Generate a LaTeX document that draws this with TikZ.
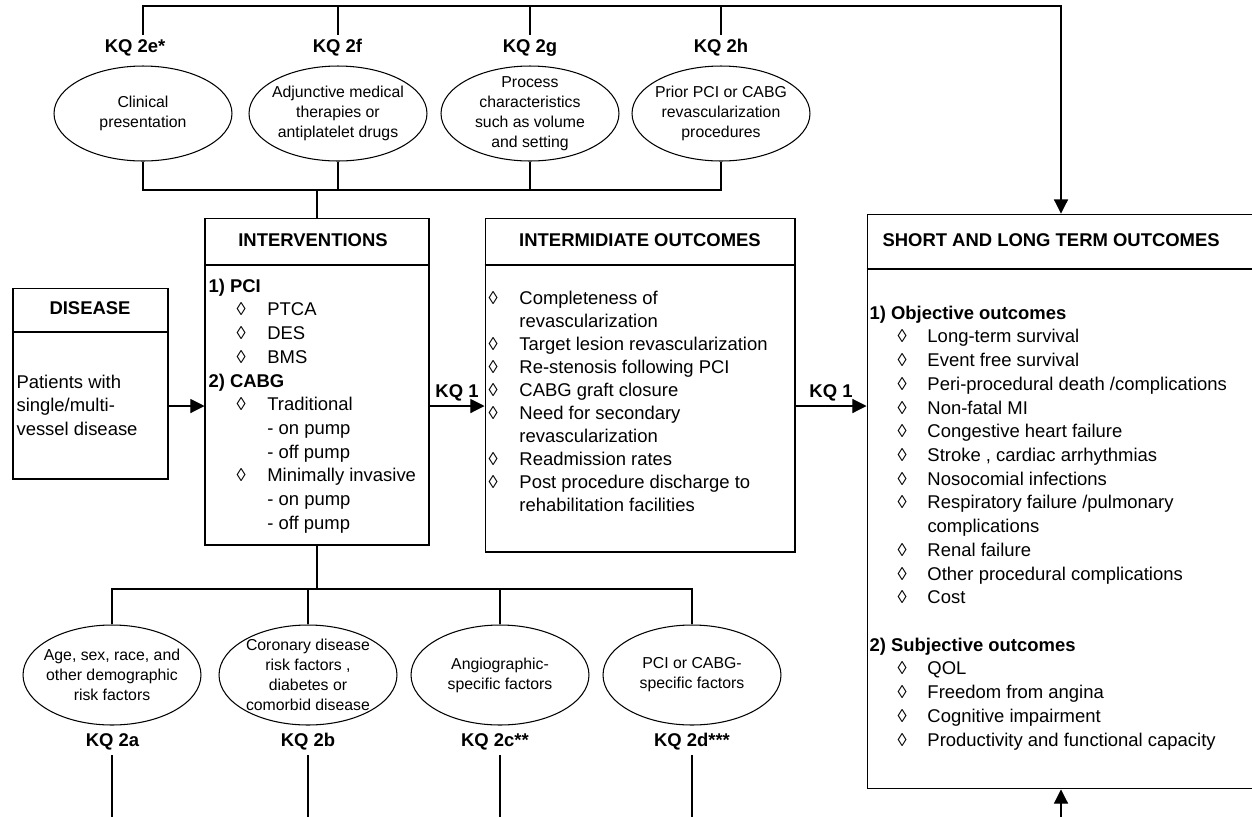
\documentclass[tikz,border=0pt]{standalone}
\usepackage{fontspec}
\setmainfont{Liberation Sans}
\usetikzlibrary{shapes.geometric,arrows.meta}

\newcommand{\dm}[1][17pt]{\makebox[#1][l]{◊}}
\newcommand{\ind}{\hspace{16pt}}

\begin{document}
\begin{tikzpicture}[
  x=0.02cm, y=-0.02cm,
  line width=0.6pt,
  >={Triangle[length=8pt,width=8pt]},
  box/.style={draw,rectangle,inner sep=0pt},
  oval/.style={draw,ellipse,inner sep=-15pt,minimum width=3.56cm,align=center,
    font=\fontsize{9}{11.3}\selectfont},
  kq/.style={font=\bfseries\fontsize{10.5}{12}\selectfont,inner sep=2.5pt},
  head/.style={font=\bfseries\fontsize{10.5}{12}\selectfont,inner sep=0pt},
  body/.style={anchor=north west,align=left,inner sep=0pt,
    font=\fontsize{10.5}{13.5}\selectfont}]

\useasboundingbox (0,0) rectangle (1252,816);

% main boxes
\node[box,minimum width=3.1cm,minimum height=3.82cm] (dis) at (90.5,383.5) {};
\node[box,minimum width=4.48cm,minimum height=6.54cm] (interv) at (317,381.5) {};
\node[box,minimum width=6.2cm,minimum height=6.68cm] (inter) at (640,385) {};
\node[box,minimum width=7.76cm,minimum height=11.5cm] (outc) at (1061,501.5) {};

\coordinate (hdis) at (0,332);
\coordinate (hmid) at (0,265);
\coordinate (hout) at (0,269);
\draw (dis.west |- hdis) -- (dis.east |- hdis);
\draw (interv.west |- hmid) -- (interv.east |- hmid);
\draw (inter.west |- hmid) -- (inter.east |- hmid);
\draw (outc.west |- hout) -- (outc.east |- hout);

\node[head] (tdis) at (90,308) {DISEASE};
\node[head] (tint) at (313,240) {INTERVENTIONS};
\node[head] (tmid) at (640,240) {INTERMIDIATE OUTCOMES};
\node[head,anchor=west] (tout) at (882,240) {SHORT AND LONG TERM OUTCOMES};

% box contents
\node[body] (bdis) at (16,371) {\strut Patients with\\single/multi-\\vessel disease};
\node[body] (bint) at (208,275) {\strut\textbf{1) PCI}\\
  \ind\dm[17.5pt]PTCA\\
  \ind\dm[17.5pt]DES\\
  \ind\dm[17.5pt]BMS\\
  \textbf{2) CABG}\\
  \ind\dm[17.5pt]Traditional\\
  \ind\hspace{17.5pt}- on pump\\
  \ind\hspace{17.5pt}- off pump\\
  \ind\dm[17.5pt]Minimally invasive\\
  \ind\hspace{17.5pt}- on pump\\
  \ind\hspace{17.5pt}- off pump};
\node[body,font=\fontsize{10.5}{13.1}\selectfont] (bmid) at (488,288) {\strut\dm[17.6pt]Completeness of\\
  \hspace{17.6pt}revascularization\\
  \dm[17.6pt]Target lesion revascularization\\
  \dm[17.6pt]Re-stenosis following PCI\\
  \dm[17.6pt]CABG graft closure\\
  \dm[17.6pt]Need for secondary\\
  \hspace{17.6pt}revascularization\\
  \dm[17.6pt]Readmission rates\\
  \dm[17.6pt]Post procedure discharge to\\
  \hspace{17.6pt}rehabilitation facilities};
\node[body] (bout) at (869,302) {\strut\textbf{1) Objective outcomes}\\
  \ind\dm Long-term survival\\
  \ind\dm Event free survival\\
  \ind\dm Peri-procedural death /complications\\
  \ind\dm Non-fatal MI\\
  \ind\dm Congestive heart failure\\
  \ind\dm Stroke , cardiac arrhythmias\\
  \ind\dm Nosocomial infections\\
  \ind\dm Respiratory failure /pulmonary\\
  \ind\hspace{17pt}complications\\
  \ind\dm Renal failure\\
  \ind\dm Other procedural complications\\
  \ind\dm Cost\\[13.5pt]
  \textbf{2) Subjective outcomes}\\
  \ind\dm QOL\\
  \ind\dm Freedom from angina\\
  \ind\dm Cognitive impairment\\
  \ind\dm Productivity and functional capacity};

% factor ovals
\node[oval,minimum height=1.9cm] (e) at (143,113.5) {Clinical\\presentation};
\node[oval,minimum height=1.9cm] (f) at (338,113.5) {Adjunctive medical\\therapies or\\antiplatelet drugs};
\node[oval,minimum height=1.9cm] (g) at (530,113.5) {Process\\characteristics\\such as volume\\and setting};
\node[oval,minimum height=1.9cm] (h) at (721,113.5) {Prior PCI or CABG\\revascularization\\procedures};

\node[oval,minimum height=2cm] (a) at (112,675) {Age, sex, race, and\\other demographic\\risk factors};
\node[oval,minimum height=2cm] (b) at (308,675) {Coronary disease\\risk factors ,\\diabetes or\\comorbid disease};
\node[oval,minimum height=2cm] (c) at (500,675) {Angiographic-\\specific factors};
\node[oval,minimum height=2cm] (d) at (692,675) {PCI or CABG-\\specific factors};

\node[kq] (kqe) at (135,48) {KQ 2e*};
\node[kq] (kqf) at (337.5,48) {KQ 2f};
\node[kq] (kqg) at (530,48) {KQ 2g};
\node[kq] (kqh) at (721,48) {KQ 2h};
\node[kq] (kqa) at (112.5,742) {KQ 2a};
\node[kq] (kqb) at (308,742) {KQ 2b};
\node[kq] (kqc) at (495,742) {KQ 2c**};
\node[kq] (kqd) at (692,742) {KQ 2d***};

% connectors
\coordinate (topy) at (0,6);
\coordinate (jtop) at (317,190);
\coordinate (jbot) at (317,589);
\coordinate (arow) at (0,406);
\coordinate (pbot) at (0,820);

\draw[->] (e |- kqe.north) -- (e |- topy) -- (outc.north |- topy) -- (outc.north);
\draw (f |- kqf.north) -- (f |- topy);
\draw (g |- kqg.north) -- (g |- topy);
\draw (h |- kqh.north) -- (h |- topy);

\draw (e.south) |- (h.south |- jtop) -- (h.south);
\draw (f.south) -- (f.south |- jtop);
\draw (g.south) -- (g.south |- jtop);
\draw (jtop) -- (interv.north);

\draw (interv.south) -- (jbot);
\draw (a.north) |- (d.north |- jbot) -- (d.north);
\draw (b.north) -- (b.north |- jbot);
\draw (c.north) -- (c.north |- jbot);

\draw (a |- kqa.south) -- (a |- pbot);
\draw (b |- kqb.south) -- (b |- pbot);
\draw (c |- kqc.south) -- (c |- pbot);
\draw (d |- kqd.south) -- (d |- pbot);
\draw[->] (outc.south |- pbot) -- (outc.south);

\draw[->] (dis.east |- arow) -- (interv.west |- arow);
\draw[->] (interv.east |- arow) -- node[kq,above] (kq1a) {KQ 1} (inter.west |- arow);
\draw[->] (inter.east |- arow) -- node[kq,above] (kq1b) {KQ 1} (outc.west |- arow);

\end{tikzpicture}
\end{document}
